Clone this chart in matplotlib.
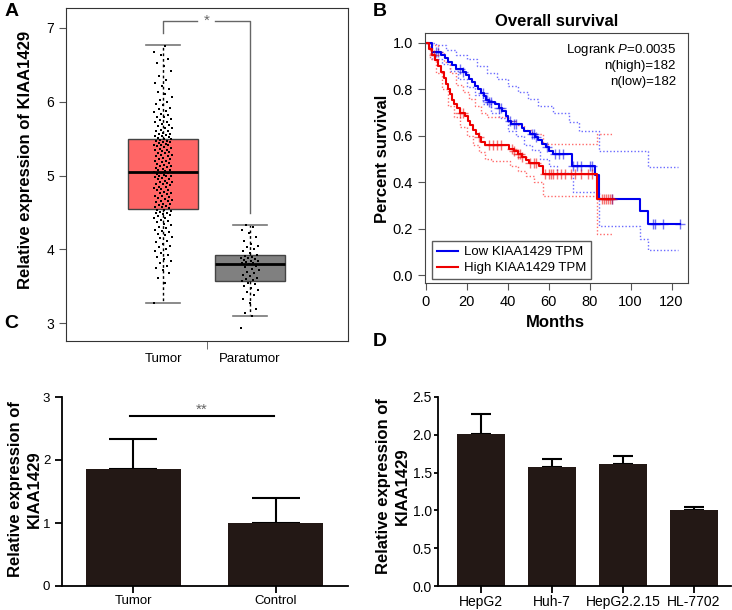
import numpy as np
import matplotlib.pyplot as plt
from matplotlib.lines import Line2D

plt.rcParams['font.family'] = ['Liberation Sans', 'DejaVu Sans']
plt.rcParams['mathtext.fontset'] = 'custom'
plt.rcParams['mathtext.rm'] = 'Liberation Sans'
plt.rcParams['mathtext.it'] = 'Liberation Sans:italic'

# --- Panel A data: expression values (read from the jitter cloud) ---
tumor_vals = [
    3.27, 3.55, 3.62, 3.68, 3.72, 3.75, 3.78, 3.82, 3.85, 3.87, 3.9, 3.93, 3.95, 3.98, 4.0,
    4.03, 4.05, 4.08, 4.1, 4.12, 4.15, 4.17, 4.19, 4.21, 4.23, 4.25, 4.27, 4.29, 4.31, 4.33,
    4.35, 4.37, 4.38, 4.4, 4.42, 4.43, 4.45, 4.46, 4.48, 4.49, 4.5, 4.51, 4.52, 4.53, 4.54,
    4.56, 4.57, 4.57, 4.59, 4.6, 4.61, 4.62, 4.64, 4.65, 4.66, 4.67, 4.68, 4.7, 4.71, 4.72,
    4.73, 4.75, 4.76, 4.77, 4.78, 4.8, 4.81, 4.82, 4.83, 4.84, 4.85, 4.87, 4.88, 4.89, 4.9,
    4.91, 4.92, 4.93, 4.95, 4.96, 4.97, 4.98, 4.99, 5.0, 5.0, 5.01, 5.02, 5.03, 5.04, 5.05,
    5.06, 5.07, 5.07, 5.09, 5.1, 5.12, 5.13, 5.13, 5.15, 5.16, 5.17, 5.19, 5.2, 5.2, 5.22,
    5.23, 5.24, 5.26, 5.27, 5.28, 5.28, 5.3, 5.31, 5.32, 5.34, 5.35, 5.35, 5.36, 5.38, 5.39,
    5.4, 5.41, 5.42, 5.42, 5.43, 5.44, 5.45, 5.46, 5.47, 5.47, 5.48, 5.49, 5.5, 5.51, 5.52,
    5.53, 5.54, 5.55, 5.56, 5.57, 5.58, 5.6, 5.61, 5.62, 5.64, 5.65, 5.67, 5.68, 5.7, 5.72,
    5.73, 5.75, 5.77, 5.79, 5.8, 5.82, 5.84, 5.86, 5.88, 5.9, 5.92, 5.95, 5.97, 6.0, 6.03,
    6.06, 6.1, 6.13, 6.17, 6.21, 6.25, 6.3, 6.35, 6.42, 6.48, 6.52, 6.58, 6.64, 6.68, 6.76,
]
paratumor_vals = [
    2.93, 3.1, 3.14, 3.2, 3.27, 3.33, 3.38, 3.42, 3.45, 3.48, 3.5, 3.53, 3.55, 3.57, 3.58,
    3.6, 3.62, 3.64, 3.66, 3.68, 3.7, 3.72, 3.74, 3.76, 3.78, 3.8, 3.81, 3.82, 3.83, 3.84,
    3.85, 3.86, 3.87, 3.88, 3.89, 3.9, 3.91, 3.92, 3.95, 3.98, 4.0, 4.03, 4.05, 4.08, 4.12,
    4.17, 4.22, 4.27, 4.3, 4.33,
]
groups_a = ['Tumor', 'Paratumor']
box_q1 = [4.55, 3.57]
box_med = [5.05, 3.80]
box_q3 = [5.50, 3.92]
box_lo = [3.27, 3.10]
box_hi = [6.77, 4.33]

# --- Panel B data: Kaplan-Meier steps ---
low_t = [0, 3, 7.5, 9.5, 11, 13, 15, 18, 19.5, 21, 22.5, 24, 25.5, 27, 28.5, 29.5, 31, 34,
         36, 37.5, 39, 40, 41.5, 47, 48, 51, 53.5, 55, 57, 58.5, 60, 62, 71.5, 82.5, 84.5,
         104.5, 108.5]
low_s = [1.0, 0.96, 0.95, 0.935, 0.92, 0.905, 0.89, 0.875, 0.86, 0.845, 0.83, 0.815, 0.80,
         0.785, 0.77, 0.755, 0.745, 0.735, 0.72, 0.705, 0.685, 0.665, 0.65, 0.635, 0.62,
         0.61, 0.595, 0.58, 0.565, 0.55, 0.535, 0.52, 0.47, 0.43, 0.33, 0.275, 0.22]
low_end = 124
low_cens = [5, 6, 17, 18, 28, 30, 31, 32, 36, 37, 41, 43, 44, 52, 53, 54, 59, 63, 65, 67,
            72, 74, 76, 80, 81, 91, 111, 112, 116, 124]

high_t = [0, 1.5, 3, 4.5, 6, 7.5, 9, 10, 11, 12, 13, 14, 15.5, 17, 19, 20.5, 21.5, 23,
          24.5, 26, 27, 29, 40.5, 43, 45, 47, 49, 50.5, 55.5, 57.5, 83.5]
high_s = [1.0, 0.975, 0.95, 0.925, 0.90, 0.875, 0.85, 0.825, 0.80, 0.78, 0.755, 0.735,
          0.72, 0.70, 0.685, 0.665, 0.645, 0.625, 0.61, 0.595, 0.575, 0.56, 0.545, 0.535,
          0.52, 0.51, 0.495, 0.485, 0.47, 0.435, 0.33]
high_end = 92
high_cens = [4, 17, 18, 26, 31, 33, 35, 37, 42, 43, 45, 46, 47, 51, 53, 54, 58, 60, 61, 62,
             64, 66, 68, 71, 73, 76, 79, 81, 86, 87, 88, 89, 90, 91]

low_up_t = [0, 5, 10, 15, 20, 25, 30, 35, 40, 45, 50, 55, 62, 70, 75, 84.5, 104.5, 108.5]
low_up_s = [1.0, 0.99, 0.97, 0.95, 0.93, 0.90, 0.87, 0.845, 0.815, 0.79, 0.76, 0.73, 0.70,
            0.66, 0.62, 0.535, 0.535, 0.465]
low_lo_t = [0, 3, 8, 12, 16, 20, 24, 28, 32, 36, 40, 44, 48, 52, 56, 60, 64, 72, 84.5,
            104.5, 108.5]
low_lo_s = [1.0, 0.93, 0.91, 0.88, 0.845, 0.81, 0.775, 0.735, 0.70, 0.675, 0.62, 0.60,
            0.56, 0.54, 0.50, 0.47, 0.44, 0.36, 0.21, 0.155, 0.11]
low_ci_end = 123

high_up_t = [0, 3, 6, 9, 12, 15, 18, 21, 24, 27, 30, 40, 44, 48, 52, 57.5, 83.5]
high_up_s = [1.0, 0.99, 0.96, 0.92, 0.87, 0.82, 0.79, 0.76, 0.73, 0.70, 0.68, 0.665,
             0.645, 0.625, 0.61, 0.565, 0.61]
high_lo_t = [0, 2, 5, 8, 11, 14, 17, 20, 23, 26, 29, 32, 41, 45, 49, 53, 57.5, 83.5]
high_lo_s = [1.0, 0.93, 0.87, 0.80, 0.73, 0.68, 0.64, 0.60, 0.56, 0.53, 0.50, 0.49, 0.47,
             0.45, 0.425, 0.40, 0.34, 0.175]
high_ci_end = 91.5

# --- Panel C / D data ---
c_groups = ['Tumor', 'Control']
c_means = [1.85, 1.0]
c_errs = [0.48, 0.39]

d_groups = ['HepG2', 'Huh-7', 'HepG2.2.15', 'HL-7702']
d_means = [2.01, 1.58, 1.62, 1.0]
d_errs = [0.26, 0.10, 0.10, 0.04]

W, H = 732, 610
fig = plt.figure(figsize=(W / 100, H / 100), dpi=100)


def px_axes(left, top, right, bottom):
    return fig.add_axes([left / W, 1 - bottom / H, (right - left) / W, (bottom - top) / H])


tick_fs = 10
lab_fs = 12
narrow = ['Liberation Sans Narrow', 'Liberation Sans', 'DejaVu Sans']

# ---------------- Panel A ----------------
axA = px_axes(66, 8, 348, 341)
stats = []
for i in range(2):
    stats.append(dict(med=box_med[i], q1=box_q1[i], q3=box_q3[i],
                      whislo=box_lo[i], whishi=box_hi[i], fliers=[]))
bp = axA.bxp(stats, positions=[1, 2], widths=0.805, patch_artist=True, showfliers=False,
             capwidths=0.39,
             boxprops=dict(edgecolor='#444444', linewidth=1),
             whiskerprops=dict(color='black', linestyle=(0, (2, 2)), linewidth=1),
             capprops=dict(color='#777777', linewidth=1.2),
             medianprops=dict(color='black', linewidth=2))
for patch, fc in zip(bp['boxes'], ['#ff6666', '#808080']):
    patch.set_facecolor(fc)

for pos, vals in [(1, tumor_vals), (2, paratumor_vals)]:
    n = len(vals)
    jit = ((np.arange(n) * 0.618034) % 1 - 0.5) * 0.21
    axA.scatter(pos + jit, vals, s=4, c='black', marker='s', linewidths=0, zorder=3)

axA.plot([1, 1, 1.39], [6.93, 7.1, 7.1], color='#666666', lw=1)
axA.plot([1.6, 2, 2], [7.1, 7.1, 4.5], color='#666666', lw=1)
axA.text(1.5, 7.1, '*', ha='center', va='center', fontsize=11, color='#666666')

axA.set_xlim(-0.115, 3.126)
axA.set_ylim(2.76, 7.27)
axA.set_yticks([3, 4, 5, 6, 7])
axA.set_xticks([1, 2])
axA.set_xticklabels(groups_a, fontsize=9.5)
axA.tick_params(axis='x', length=0, pad=9)
axA.set_xticks([1.5], minor=True)
axA.tick_params(axis='x', which='minor', length=6, color='#555555')
axA.tick_params(axis='y', labelsize=tick_fs, length=5, color='#555555')
for s in axA.spines.values():
    s.set_color('#333333')
axA.set_ylabel('Relative expression of KIAA1429', fontsize=lab_fs, fontweight='bold')
axA.yaxis.set_label_coords((33 - 66) / 282, 0.545)

# ---------------- Panel B ----------------
axB = px_axes(425, 33, 688, 283)
blue, red = '#0000ee', '#ee0000'


def km_line(ax, t, s, end, color, **kw):
    ax.step(list(t) + [end], list(s) + [s[-1]], where='post', color=color, **kw)


km_line(axB, low_up_t, low_up_s, low_ci_end, '#6a6aff', lw=1, linestyle=(0, (1, 1.5)))
km_line(axB, low_lo_t, low_lo_s, low_ci_end, '#6a6aff', lw=1, linestyle=(0, (1, 1.5)))
km_line(axB, high_up_t, high_up_s, high_ci_end, '#ff6a6a', lw=1, linestyle=(0, (1, 1.5)))
km_line(axB, high_lo_t, high_lo_s, high_ci_end, '#ff6a6a', lw=1, linestyle=(0, (1, 1.5)))
km_line(axB, low_t, low_s, low_end, blue, lw=1.5)
km_line(axB, high_t, high_s, high_end, red, lw=1.5)

for t, s, cens, col in [(low_t, low_s, low_cens, blue), (high_t, high_s, high_cens, red)]:
    idx = np.searchsorted(t, cens, side='right') - 1
    axB.plot(cens, np.array(s)[idx], linestyle='none', marker='+', ms=7, mew=1,
             color=col, alpha=0.55)

axB.set_xlim(-0.3, 128)
axB.set_ylim(-0.034, 1.043)
axB.set_xticks(range(0, 121, 20))
axB.set_yticks([0, 0.2, 0.4, 0.6, 0.8, 1.0])
axB.set_yticklabels(['0.0', '0.2', '0.4', '0.6', '0.8', '1.0'])
axB.tick_params(labelsize=10.5, length=5, color='#555555')
for s in axB.spines.values():
    s.set_color('#444444')
axB.set_xlabel('Months', fontsize=lab_fs, fontweight='bold')
axB.xaxis.set_label_coords(0.494, (283 - 315) / 250)
axB.set_ylabel('Percent survival', fontsize=lab_fs, fontweight='bold')
axB.yaxis.set_label_coords((390 - 425) / 263, 0.498)

handles = [Line2D([], [], color=blue, lw=1.5), Line2D([], [], color=red, lw=1.5)]
leg = axB.legend(handles, ['Low KIAA1429 TPM', 'High KIAA1429 TPM'], loc='lower left',
                 bbox_to_anchor=((432 - 425) / 263, (283 - 279) / 250), fontsize=9.5,
                 frameon=True, fancybox=False, handlelength=1.6, borderpad=0.35,
                 labelspacing=0.3, handletextpad=0.5, borderaxespad=0)
leg.get_frame().set_edgecolor('#333333')
leg.get_frame().set_linewidth(1)

fig.text(557 / W, 1 - 22 / H, 'Overall survival', ha='center', va='center',
         fontsize=lab_fs, fontweight='bold')
fig.text(676 / W, 1 - 50 / H, 'Logrank $P$=0.0035', ha='right', va='center', fontsize=9.5)
fig.text(676 / W, 1 - 66 / H, 'n(high)=182', ha='right', va='center', fontsize=9.5)
fig.text(676 / W, 1 - 82 / H, 'n(low)=182', ha='right', va='center', fontsize=9.5)

# ---------------- Panel C ----------------
bar_col = '#231815'
axC = px_axes(62, 397, 348, 586)
xc = np.arange(len(c_groups))
axC.bar(xc, c_means, width=0.668, color=bar_col, zorder=2)
axC.errorbar(xc, c_means, yerr=[np.zeros(len(c_errs)), c_errs], fmt='none', ecolor='black',
             elinewidth=1.5, capsize=17, capthick=1.5, zorder=1)
axC.plot([-0.025, 0.987], [2.7, 2.7], color='black', lw=1.5)
axC.text(0.48, 2.8, '**', ha='center', va='center', fontsize=11, color='#666666')
axC.set_xlim(-0.502, 1.507)
axC.set_ylim(0, 3)
axC.set_yticks([0, 1, 2, 3])
axC.set_xticks(xc)
axC.set_xticklabels(c_groups, fontsize=9.5)
axC.spines['top'].set_visible(False)
axC.spines['right'].set_visible(False)
for s in ['left', 'bottom']:
    axC.spines[s].set_linewidth(1.3)
axC.tick_params(axis='y', labelsize=9.5, length=5, width=1.3)
axC.tick_params(axis='x', length=5, width=1.3, pad=1.5)
axC.set_ylabel('Relative expression of\nKIAA1429', fontsize=lab_fs, fontweight='bold',
               linespacing=1.35)
axC.yaxis.set_label_coords((42 - 62) / 286, 0.513)

# ---------------- Panel D ----------------
axD = px_axes(438, 397, 731, 586)
xd = np.arange(len(d_groups))
axD.bar(xd, d_means, width=0.676, color=bar_col, zorder=2)
axD.errorbar(xd, d_means, yerr=[np.zeros(len(d_errs)), d_errs], fmt='none', ecolor='black',
             elinewidth=1.5, capsize=7, capthick=1.5, zorder=1)
axD.set_xlim(-0.606, 3.52)
axD.set_ylim(0, 2.5)
axD.set_yticks([0, 0.5, 1.0, 1.5, 2.0, 2.5])
axD.set_yticklabels(['0.0', '0.5', '1.0', '1.5', '2.0', '2.5'])
axD.set_xticks(xd)
axD.set_xticklabels(d_groups, fontsize=10, family=narrow)
axD.spines['top'].set_visible(False)
axD.spines['right'].set_visible(False)
for s in ['left', 'bottom']:
    axD.spines[s].set_linewidth(1.3)
axD.tick_params(axis='y', labelsize=tick_fs, length=3, width=1.3, pad=1.5)
axD.tick_params(axis='x', length=5, width=1.3, pad=1.5)
axD.set_ylabel('Relative expression of\nKIAA1429', fontsize=lab_fs, fontweight='bold',
               linespacing=1.35)
axD.yaxis.set_label_coords((410 - 438) / 293, 0.529)

# panel letters
for letter, x, y in [('A', 12, 11), ('B', 380, 11), ('C', 11, 323), ('D', 380, 342)]:
    fig.text(x / W, 1 - y / H, letter, ha='center', va='center', fontsize=14,
             fontweight='bold')

fig.savefig('out.png', dpi=100)
